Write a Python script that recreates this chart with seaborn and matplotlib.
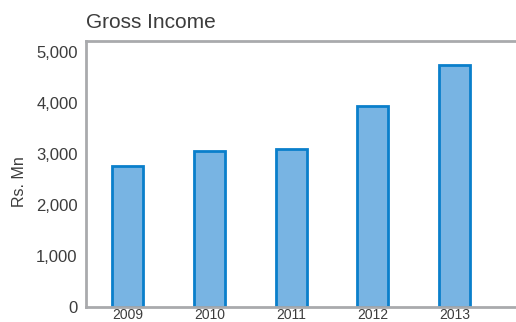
import matplotlib
matplotlib.use("Agg")
import matplotlib.pyplot as plt
import seaborn as sns
import pandas as pd

# Gross income by year (Rs. Mn)
years = ["2009", "2010", "2011", "2012", "2013"]
gross_income = [2765, 3065, 3110, 3945, 4750]
y_ticks = [0, 1000, 2000, 3000, 4000, 5000]
y_tick_labels = ["0", "1,000", "2,000", "3,000", "4,000", "5,000"]

df = pd.DataFrame({"year": years, "income": gross_income})

sns.set_theme(style="white")
plt.rcParams["font.family"] = ["Liberation Sans", "DejaVu Sans"]

text_color = "#3c3c3c"
spine_color = "#a9aaad"

fig = plt.figure(figsize=(5.16, 3.22), dpi=100)
ax = fig.add_axes([0.1667, 0.0466, 0.8333, 0.826])

sns.barplot(data=df, x="year", y="income", ax=ax, color="#78b4e3",
            saturation=1, width=0.38, edgecolor="#0a7fcb", linewidth=2)

ax.set_xlim(-0.508, 4.75)
ax.set_ylim(0, 5220)
ax.set_yticks(y_ticks)
ax.set_yticklabels(y_tick_labels)

ax.tick_params(axis="y", length=0, pad=6, labelsize=12, labelcolor=text_color)
ax.tick_params(axis="x", length=0, pad=1, labelsize=10, labelcolor=text_color)

for side in ["left", "top", "bottom"]:
    ax.spines[side].set_visible(True)
    ax.spines[side].set_color(spine_color)
    ax.spines[side].set_linewidth(2)
ax.spines["right"].set_visible(False)

ax.set_xlabel("")
ax.set_ylabel("Rs. Mn", fontsize=11.5, color=text_color)
ax.yaxis.set_label_coords(-0.137, 0.47)

fig.text(86 / 516, 1 - 23 / 322, "Gross Income", fontsize=15,
         color=text_color, ha="left", va="center")

fig.savefig("out.png", dpi=100)
